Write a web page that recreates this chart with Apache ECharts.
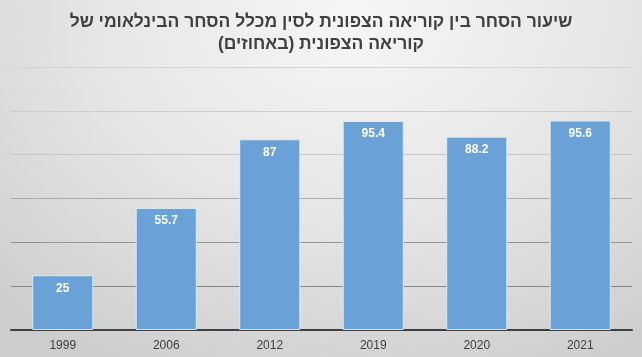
<!DOCTYPE html>
<html>
<head>
<meta charset="utf-8">
<script src="https://cdn.jsdelivr.net/npm/echarts@6/dist/echarts.min.js"></script>
<style>
html,body{margin:0;padding:0;}
#c{width:642px;height:357px;background:radial-gradient(ellipse 80% 110% at 55% 5%, #f6f6f6 0%, #e6e6e6 50%, #cdcdcd 100%);}
</style>
</head>
<body>
<div id="c" dir="rtl"></div>
<script>
const titleLines = ['שיעור הסחר בין קוריאה הצפונית לסין מכלל הסחר הבינלאומי של', 'קוריאה הצפונית (באחוזים)'];
const categories = ['1999', '2006', '2012', '2019', '2020', '2021'];
const values = [25, 55.7, 87, 95.4, 88.2, 95.6];

const chart = echarts.init(document.getElementById('c'), null, {renderer: 'canvas'});
chart.setOption({
  backgroundColor: 'transparent',
  animation: false,
  title: {
    text: titleLines.join('\n'),
    left: 'center',
    top: 6,
    textStyle: {
      fontFamily: 'Liberation Sans, Arial, sans-serif',
      fontSize: 17.5,
      fontWeight: 'bold',
      color: '#404040',
      lineHeight: 22
    }
  },
  grid: {left: 11, right: 10, top: 67, bottom: 27, containLabel: false},
  xAxis: {
    type: 'category',
    data: categories,
    axisTick: {show: false},
    axisLine: {lineStyle: {color: '#404040', width: 2}},
    axisLabel: {color: '#404040', fontSize: 12, margin: 10, fontFamily: 'Liberation Sans, Arial, sans-serif'}
  },
  yAxis: {
    type: 'value',
    min: 0,
    max: 120,
    interval: 20,
    axisLabel: {show: false},
    axisLine: {show: false},
    axisTick: {show: false},
    splitLine: {
      lineStyle: {
        width: 1,
        color: {
          type: 'linear', x: 0, y: 67, x2: 0, y2: 330, global: true,
          colorStops: [{offset: 0, color: '#d4d4d4'}, {offset: 0.35, color: '#c6c6c6'}, {offset: 0.6, color: '#9a9a9a'}, {offset: 1, color: '#787878'}]
        }
      }
    }
  },
  series: [{
    type: 'bar',
    data: values,
    barWidth: '59%',
    itemStyle: {color: '#6aa1d6', borderColor: 'rgba(225,238,250,0.9)', borderWidth: 1},
    label: {
      show: true,
      position: 'insideTop',
      distance: 7,
      color: '#ffffff',
      fontSize: 12,
      fontWeight: 'bold',
      fontFamily: 'Liberation Sans, Arial, sans-serif'
    }
  }]
});
</script>
</body>
</html>
